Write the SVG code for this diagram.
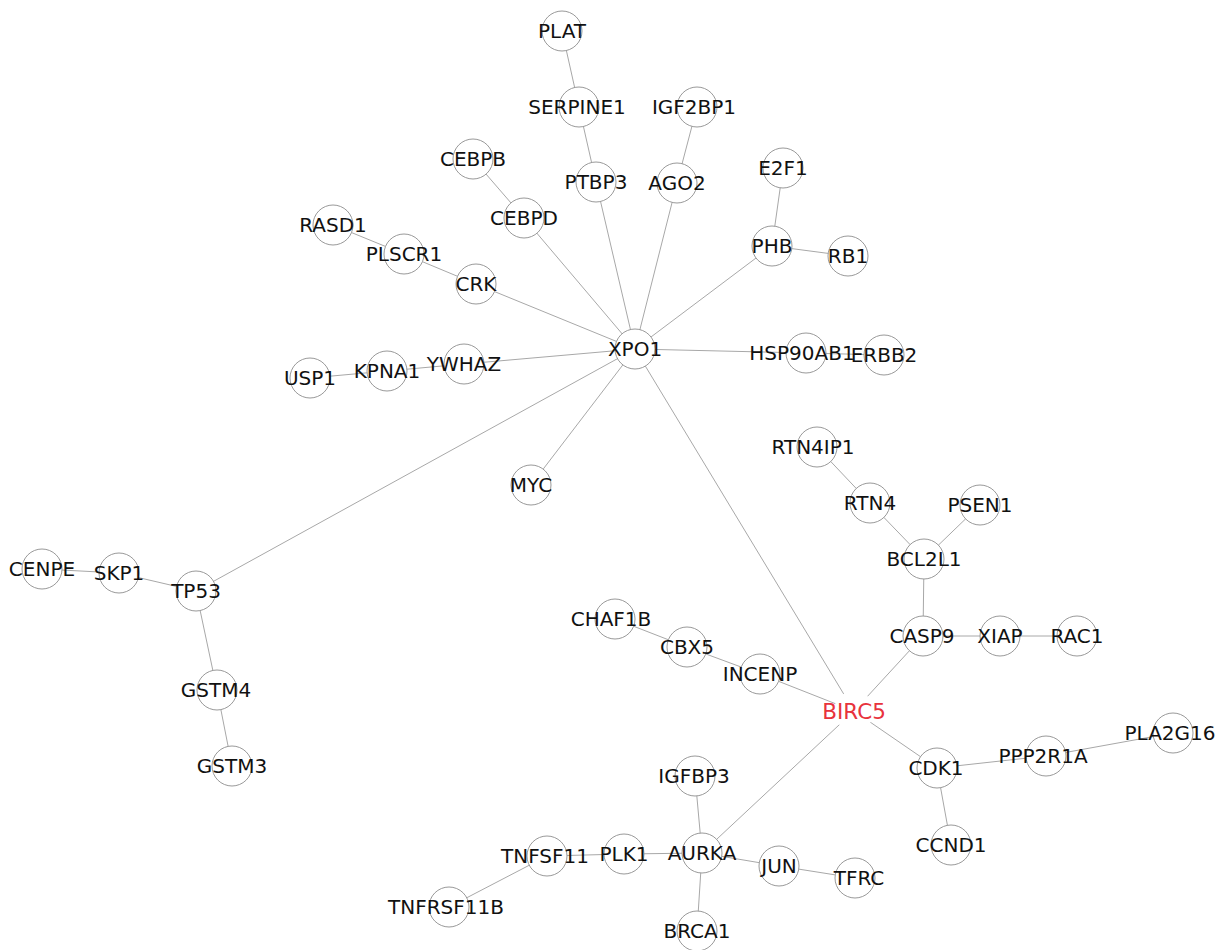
<svg xmlns="http://www.w3.org/2000/svg" width="1222" height="950" viewBox="0 0 1222 950">
<style>
.e{stroke:#a8a8a8;stroke-width:1;fill:none}
.n circle{fill:#fff;stroke:#999;stroke-width:1}
.n text{font-family:"DejaVu Sans","Liberation Sans",sans-serif;font-size:20px;fill:#111;text-anchor:middle}
#BIRC5 circle{stroke:none}
#BIRC5 text{fill:#e8333c;font-size:21.5px}
</style>
<rect width="1222" height="950" fill="#fff"/>
<g id="edges">
<line class="e" x1="635" y1="349" x2="596" y2="182"/>
<line class="e" x1="635" y1="349" x2="677" y2="183"/>
<line class="e" x1="635" y1="349" x2="524" y2="218"/>
<line class="e" x1="635" y1="349" x2="476" y2="284"/>
<line class="e" x1="635" y1="349" x2="464" y2="364"/>
<line class="e" x1="635" y1="349" x2="772" y2="246"/>
<line class="e" x1="635" y1="349" x2="806" y2="353"/>
<line class="e" x1="635" y1="349" x2="531" y2="485"/>
<line class="e" x1="635" y1="349" x2="196" y2="591"/>
<line class="e" x1="635" y1="349" x2="854" y2="711"/>
<line class="e" x1="562" y1="31" x2="579" y2="107"/>
<line class="e" x1="579" y1="107" x2="596" y2="182"/>
<line class="e" x1="697" y1="107" x2="677" y2="183"/>
<line class="e" x1="473" y1="159" x2="524" y2="218"/>
<line class="e" x1="333" y1="225" x2="404" y2="254"/>
<line class="e" x1="404" y1="254" x2="476" y2="284"/>
<line class="e" x1="310" y1="378" x2="387" y2="371"/>
<line class="e" x1="387" y1="371" x2="464" y2="364"/>
<line class="e" x1="783" y1="168" x2="772" y2="246"/>
<line class="e" x1="772" y1="246" x2="848" y2="256"/>
<line class="e" x1="806" y1="353" x2="884" y2="355"/>
<line class="e" x1="42" y1="569" x2="119" y2="573"/>
<line class="e" x1="119" y1="573" x2="196" y2="591"/>
<line class="e" x1="196" y1="591" x2="217" y2="690"/>
<line class="e" x1="217" y1="690" x2="232" y2="766"/>
<line class="e" x1="817" y1="447" x2="870" y2="503"/>
<line class="e" x1="870" y1="503" x2="924" y2="559"/>
<line class="e" x1="980" y1="505" x2="924" y2="559"/>
<line class="e" x1="924" y1="559" x2="923" y2="636"/>
<line class="e" x1="923" y1="636" x2="1000" y2="636"/>
<line class="e" x1="1000" y1="636" x2="1077" y2="636"/>
<line class="e" x1="923" y1="636" x2="854" y2="711"/>
<line class="e" x1="615" y1="619" x2="687" y2="647"/>
<line class="e" x1="687" y1="647" x2="760" y2="674"/>
<line class="e" x1="760" y1="674" x2="854" y2="711"/>
<line class="e" x1="854" y1="711" x2="937" y2="768"/>
<line class="e" x1="937" y1="768" x2="1046" y2="756"/>
<line class="e" x1="1046" y1="756" x2="1173" y2="733"/>
<line class="e" x1="937" y1="768" x2="951" y2="845"/>
<line class="e" x1="854" y1="711" x2="702" y2="853"/>
<line class="e" x1="702" y1="853" x2="695" y2="776"/>
<line class="e" x1="702" y1="853" x2="624" y2="854"/>
<line class="e" x1="624" y1="854" x2="547" y2="856"/>
<line class="e" x1="547" y1="856" x2="449" y2="907"/>
<line class="e" x1="702" y1="853" x2="779" y2="866"/>
<line class="e" x1="779" y1="866" x2="855" y2="878"/>
<line class="e" x1="702" y1="853" x2="697" y2="931"/>
</g>
<g id="PLAT" class="n"><circle cx="562" cy="31" r="20"/><text x="562" y="38.3">PLAT</text></g>
<g id="SERPINE1" class="n"><circle cx="579" cy="107" r="20"/><text x="577" y="114.3">SERPINE1</text></g>
<g id="IGF2BP1" class="n"><circle cx="697" cy="107" r="20"/><text x="694" y="114.3">IGF2BP1</text></g>
<g id="CEBPB" class="n"><circle cx="473" cy="159" r="20"/><text x="473" y="166.3">CEBPB</text></g>
<g id="PTBP3" class="n"><circle cx="596" cy="182" r="20"/><text x="596" y="189.3">PTBP3</text></g>
<g id="AGO2" class="n"><circle cx="677" cy="183" r="20"/><text x="677" y="190.3">AGO2</text></g>
<g id="CEBPD" class="n"><circle cx="524" cy="218" r="20"/><text x="524" y="225.3">CEBPD</text></g>
<g id="RASD1" class="n"><circle cx="333" cy="225" r="20"/><text x="333" y="232.3">RASD1</text></g>
<g id="PLSCR1" class="n"><circle cx="404" cy="254" r="20"/><text x="404" y="261.3">PLSCR1</text></g>
<g id="CRK" class="n"><circle cx="476" cy="284" r="20"/><text x="476" y="291.3">CRK</text></g>
<g id="XPO1" class="n"><circle cx="635" cy="349" r="20"/><text x="635" y="356.3">XPO1</text></g>
<g id="YWHAZ" class="n"><circle cx="464" cy="364" r="20"/><text x="464" y="371.3">YWHAZ</text></g>
<g id="KPNA1" class="n"><circle cx="387" cy="371" r="20"/><text x="387" y="378.3">KPNA1</text></g>
<g id="USP1" class="n"><circle cx="310" cy="378" r="20"/><text x="310" y="385.3">USP1</text></g>
<g id="E2F1" class="n"><circle cx="783" cy="168" r="20"/><text x="783" y="175.3">E2F1</text></g>
<g id="PHB" class="n"><circle cx="772" cy="246" r="20"/><text x="772" y="253.3">PHB</text></g>
<g id="RB1" class="n"><circle cx="848" cy="256" r="20"/><text x="848" y="263.3">RB1</text></g>
<g id="ERBB2" class="n"><circle cx="884" cy="355" r="20"/><text x="884" y="362.3">ERBB2</text></g>
<g id="HSP90AB1" class="n"><circle cx="806" cy="353" r="20"/><text x="802" y="360.3">HSP90AB1</text></g>
<g id="MYC" class="n"><circle cx="531" cy="485" r="20"/><text x="531" y="492.3">MYC</text></g>
<g id="RTN4IP1" class="n"><circle cx="817" cy="447" r="20"/><text x="813" y="454.3">RTN4IP1</text></g>
<g id="RTN4" class="n"><circle cx="870" cy="503" r="20"/><text x="870" y="510.3">RTN4</text></g>
<g id="PSEN1" class="n"><circle cx="980" cy="505" r="20"/><text x="980" y="512.3">PSEN1</text></g>
<g id="BCL2L1" class="n"><circle cx="924" cy="559" r="20"/><text x="924" y="566.3">BCL2L1</text></g>
<g id="CASP9" class="n"><circle cx="923" cy="636" r="20"/><text x="922" y="643.3">CASP9</text></g>
<g id="XIAP" class="n"><circle cx="1000" cy="636" r="20"/><text x="1000" y="643.3">XIAP</text></g>
<g id="RAC1" class="n"><circle cx="1077" cy="636" r="20"/><text x="1077" y="643.3">RAC1</text></g>
<g id="CENPE" class="n"><circle cx="42" cy="569" r="20"/><text x="42" y="576.3">CENPE</text></g>
<g id="SKP1" class="n"><circle cx="119" cy="573" r="20"/><text x="119" y="580.3">SKP1</text></g>
<g id="TP53" class="n"><circle cx="196" cy="591" r="20"/><text x="196" y="598.3">TP53</text></g>
<g id="GSTM4" class="n"><circle cx="217" cy="690" r="20"/><text x="216" y="697.3">GSTM4</text></g>
<g id="GSTM3" class="n"><circle cx="232" cy="766" r="20"/><text x="232" y="773.3">GSTM3</text></g>
<g id="CHAF1B" class="n"><circle cx="615" cy="619" r="20"/><text x="611" y="626.3">CHAF1B</text></g>
<g id="CBX5" class="n"><circle cx="687" cy="647" r="20"/><text x="687" y="654.3">CBX5</text></g>
<g id="INCENP" class="n"><circle cx="760" cy="674" r="20"/><text x="760" y="681.3">INCENP</text></g>
<g id="BIRC5" class="n"><circle cx="854" cy="711" r="20"/><text x="854" y="719">BIRC5</text></g>
<g id="CDK1" class="n"><circle cx="937" cy="768" r="20"/><text x="936" y="775.3">CDK1</text></g>
<g id="PPP2R1A" class="n"><circle cx="1046" cy="756" r="20"/><text x="1043" y="763.3">PPP2R1A</text></g>
<g id="PLA2G16" class="n"><circle cx="1173" cy="733" r="20"/><text x="1170" y="740.3">PLA2G16</text></g>
<g id="CCND1" class="n"><circle cx="951" cy="845" r="20"/><text x="951" y="852.3">CCND1</text></g>
<g id="IGFBP3" class="n"><circle cx="695" cy="776" r="20"/><text x="694" y="783.3">IGFBP3</text></g>
<g id="AURKA" class="n"><circle cx="702" cy="853" r="20"/><text x="702" y="860.3">AURKA</text></g>
<g id="PLK1" class="n"><circle cx="624" cy="854" r="20"/><text x="624" y="861.3">PLK1</text></g>
<g id="TNFSF11" class="n"><circle cx="547" cy="856" r="20"/><text x="545" y="863.3">TNFSF11</text></g>
<g id="TNFRSF11B" class="n"><circle cx="449" cy="907" r="20"/><text x="446" y="914.3">TNFRSF11B</text></g>
<g id="JUN" class="n"><circle cx="779" cy="866" r="20"/><text x="779" y="873.3">JUN</text></g>
<g id="TFRC" class="n"><circle cx="855" cy="878" r="20"/><text x="859" y="885.3">TFRC</text></g>
<g id="BRCA1" class="n"><circle cx="697" cy="931" r="20"/><text x="697" y="938.3">BRCA1</text></g>
</svg>
